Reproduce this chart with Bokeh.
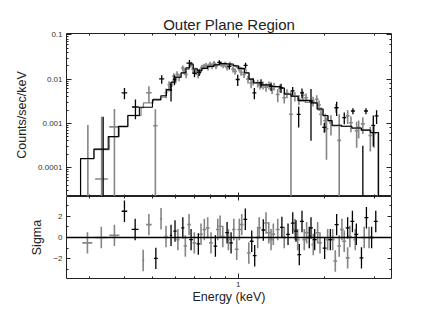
import numpy as np
from bokeh.plotting import figure
from bokeh.models import (ColumnDataSource, Range1d, LogAxis, LinearAxis, FixedTicker,
                          SingleIntervalTicker, CustomJSTickFormatter, Span)
from bokeh.layouts import column
from bokeh.embed import file_html
from bokeh.resources import INLINE

# ---------------- data ----------------
# gray data set (spectrum): energy (keV), half bin width, rate (counts/sec/keV), 1-sigma error
g_e = [0.297, 0.332, 0.368, 0.486, 0.512, 0.558, 0.572, 0.594, 0.603, 0.610,
       0.620, 0.639, 0.647, 0.656, 0.683, 0.694, 0.711, 0.723, 0.735, 0.746,
       0.758, 0.771, 0.783, 0.796, 0.809, 0.822, 0.835, 0.870, 0.884, 0.899,
       0.913, 0.935, 0.958, 0.974, 1.006, 1.022, 1.047, 1.081, 1.108, 1.126,
       1.169, 1.191, 1.220, 1.250, 1.281, 1.313, 1.334, 1.374, 1.399, 1.448,
       1.480, 1.529, 1.578, 1.630, 1.683, 1.726, 1.827, 1.882, 1.917, 1.948,
       2.015, 2.036, 2.111, 2.198, 2.256, 2.415, 2.480, 2.597, 2.640, 2.730,
       2.900, 2.990]
g_de = [0.012, 0.017, 0.015, 0.011, 0.009, 0.007, 0.007, 0.008, 0.008, 0.008,
        0.008, 0.009, 0.009, 0.009, 0.010, 0.010, 0.010, 0.010, 0.010, 0.011,
        0.011, 0.011, 0.011, 0.012, 0.012, 0.012, 0.012, 0.013, 0.013, 0.013,
        0.013, 0.014, 0.014, 0.014, 0.015, 0.015, 0.016, 0.016, 0.017, 0.017,
        0.018, 0.018, 0.019, 0.019, 0.020, 0.020, 0.020, 0.021, 0.021, 0.022,
        0.022, 0.024, 0.024, 0.025, 0.026, 0.026, 0.028, 0.029, 0.029, 0.030,
        0.031, 0.031, 0.032, 0.034, 0.034, 0.037, 0.038, 0.040, 0.040, 0.042,
        0.044, 0.046]
g_rate = [1.5e-5, 5.5e-5, 8.3e-4, 4.9e-3, 8.8e-4, 4.9e-3, 7.5e-3, 0.0116, 0.0100, 0.0129,
          0.0110, 0.0178, 0.0150, 0.0128, 0.0216, 0.0167, 0.0150, 0.0128, 0.0150, 0.0185,
          0.0195, 0.0205, 0.0185, 0.0216, 0.0195, 0.0227, 0.0195, 0.0221, 0.0205, 0.0216,
          0.0185, 0.0216, 0.0167, 0.0150, 0.0175, 0.0143, 0.0128, 0.0100, 0.0082, 0.0090,
          0.0081, 0.0073, 0.0073, 0.0066, 0.0073, 0.0059, 0.0069, 0.0045, 0.0063, 0.0038,
          0.0048, 0.0016, 0.0041, 0.0035, 0.0043, 0.0038, 0.0032, 0.0035, 0.0026, 0.0016,
          0.00114, 0.00075, 0.00103, 0.00223, 0.00041, 0.00147, 0.00103, 0.00068, 0.00080, 0.00097,
          0.00053, 0.00058]
g_err = [9.0e-4, 1.35e-3, 1.27e-3, 2.0e-3, 1.2e-3, 1.2e-3, 1.5e-3, 2.0e-3, 2.0e-3, 2.2e-3,
         2.0e-3, 2.5e-3, 2.5e-3, 2.3e-3, 3.0e-3, 3.0e-3, 2.5e-3, 2.5e-3, 2.5e-3, 2.8e-3,
         2.8e-3, 2.8e-3, 2.8e-3, 3.0e-3, 2.8e-3, 3.0e-3, 2.8e-3, 3.0e-3, 2.8e-3, 3.0e-3,
         2.8e-3, 3.0e-3, 2.6e-3, 2.5e-3, 2.6e-3, 2.4e-3, 2.2e-3, 2.0e-3, 2.0e-3, 1.8e-3,
         1.6e-3, 1.5e-3, 1.5e-3, 1.4e-3, 1.5e-3, 1.3e-3, 1.4e-3, 1.5e-3, 1.3e-3, 1.0e-3,
         1.1e-3, 3.8e-3, 1.0e-3, 9.0e-4, 1.0e-3, 9.0e-4, 8.0e-4, 8.0e-4, 7.0e-4, 7.0e-4,
         5.0e-4, 6.0e-4, 5.0e-4, 5.0e-4, 1.2e-3, 5.0e-4, 4.0e-4, 4.0e-4, 3.5e-4, 4.0e-4,
         3.0e-4, 3.0e-4]

# black data set
b_e = [0.336, 0.399, 0.436, 0.539, 0.581, 0.597, 0.674, 0.702, 0.729, 0.858,
       0.930, 0.995, 1.060, 1.138, 1.201, 1.302, 1.411, 1.550, 1.627, 1.671,
       1.797, 2.000, 2.210, 2.350, 2.520, 2.730, 2.800, 2.970, 3.050]
b_de = [0.006, 0.009, 0.012, 0.011, 0.005, 0.008, 0.016, 0.012, 0.012, 0.014,
        0.015, 0.016, 0.017, 0.018, 0.019, 0.020, 0.022, 0.024, 0.025, 0.026,
        0.028, 0.032, 0.035, 0.037, 0.040, 0.042, 0.044, 0.046, 0.048]
b_rate = [1.5e-5, 0.0049, 0.00234, 0.0101, 0.0056, 0.0098, 0.0231, 0.0136, 0.0143, 0.0239,
          0.0195, 0.0098, 0.0205, 0.0049, 0.0082, 0.0069, 0.00635, 0.0054, 0.0016, 0.0049,
          0.0032, 0.00081, 0.00226, 0.00135, 0.0019, 1.2e-5, 0.0019, 0.0009, 0.00147]
b_err = [1.4e-3, 1.4e-3, 1.1e-3, 2.2e-3, 2.5e-3, 2.5e-3, 4.0e-3, 2.5e-3, 2.5e-3, 3.0e-3,
         3.0e-3, 2.8e-3, 3.0e-3, 1.4e-3, 1.8e-3, 1.5e-3, 1.5e-3, 1.2e-3, 8.0e-4, 1.2e-3,
         2.8e-3, 2.0e-4, 8.0e-4, 4.0e-4, 3.0e-4, 3.0e-4, 3.0e-4, 6.0e-4, 5.0e-4]

# model histograms (bin edges and values)
gm_edges = [0.280, 0.312, 0.3535, 0.383, 0.410, 0.456, 0.465, 0.503, 0.536, 0.558,
            0.572, 0.586, 0.605, 0.630, 0.651, 0.672, 0.694, 0.717, 0.740, 0.771,
            0.802, 0.835, 0.870, 0.906, 0.943, 0.982, 1.022, 1.064, 1.090, 1.126,
            1.182, 1.250, 1.323, 1.411, 1.446, 1.529, 1.618, 1.712, 1.797, 1.886,
            1.980, 2.061, 2.128, 2.288, 2.480, 2.689, 2.914, 3.083]
gm_vals = [1.57e-4, 2.55e-4, 4.98e-4, 8.3e-4, 1.5e-3, 2.26e-3, 2.9e-3, 3.5e-3, 3.9e-3, 5.4e-3,
           6.9e-3, 9.0e-3, 0.0110, 0.0136, 0.0167, 0.0210, 0.0175, 0.0150, 0.0175, 0.0195,
           0.0205, 0.0216, 0.0227, 0.0221, 0.0205, 0.0185, 0.0167, 0.0136, 0.0100, 0.0081,
           0.0073, 0.0069, 0.0066, 0.0063, 0.0045, 0.0041, 0.0032, 0.0030, 0.0029, 0.0021,
           0.00147, 0.00114, 0.00088, 0.00085, 0.00077, 0.00070, 0.00061]
bm_edges = [0.280, 0.312, 0.350, 0.380, 0.410, 0.450, 0.500, 0.535, 0.560, 0.580,
            0.600, 0.630, 0.655, 0.675, 0.695, 0.720, 0.745, 0.780, 0.820, 0.860,
            0.910, 0.960, 1.000, 1.050, 1.090, 1.130, 1.200, 1.300, 1.410, 1.450,
            1.530, 1.620, 1.800, 1.890, 1.980, 2.060, 2.130, 2.300, 2.500, 2.700,
            2.900, 3.100]
bm_vals = [1.6e-4, 2.6e-4, 5.0e-4, 8.5e-4, 1.5e-3, 2.3e-3, 3.4e-3, 4.2e-3, 5.8e-3, 8.5e-3,
           0.0110, 0.0140, 0.0180, 0.0220, 0.0170, 0.0155, 0.0175, 0.0195, 0.0210, 0.0225,
           0.0220, 0.0200, 0.0175, 0.0140, 0.0100, 0.0083, 0.0074, 0.0068, 0.0063, 0.0046,
           0.0041, 0.0033, 0.0029, 0.0021, 0.0015, 0.00115, 0.00090, 0.00086, 0.00078, 0.00070,
           0.00062]

# residuals (sigma)
rg_e = [0.296, 0.331, 0.368, 0.464, 0.486, 0.536, 0.558, 0.614, 0.652, 0.672,
        0.701, 0.740, 0.760, 0.781, 0.802, 0.847, 0.863, 0.882, 0.923, 0.964,
        0.987, 1.008, 1.028, 1.088, 1.169, 1.183, 1.250, 1.278, 1.302, 1.326,
        1.374, 1.448, 1.579, 1.614, 1.702, 1.735, 1.830, 1.896, 1.932, 2.055,
        2.140, 2.186, 2.256, 2.306, 2.349, 2.415, 2.459, 2.568, 2.760, 2.870]
rg_de = [0.012, 0.017, 0.015, 0.004, 0.011, 0.005, 0.007, 0.008, 0.009, 0.010,
         0.010, 0.011, 0.011, 0.011, 0.012, 0.012, 0.013, 0.013, 0.013, 0.014,
         0.015, 0.015, 0.015, 0.016, 0.018, 0.018, 0.019, 0.020, 0.020, 0.020,
         0.021, 0.022, 0.024, 0.025, 0.026, 0.026, 0.028, 0.029, 0.029, 0.031,
         0.032, 0.034, 0.034, 0.035, 0.036, 0.037, 0.038, 0.040, 0.042, 0.044]
rg_s = [-0.5, 0.0, 0.2, -2.15, 1.2, 1.75, 0.1, -0.2, -0.8, 1.2,
        -0.5, 0.3, 0.75, 0.9, -0.5, 0.75, 1.05, 0.1, -0.2, 0.75,
        -1.1, 0.75, 1.2, -1.45, 0.0, 0.9, 1.35, 0.45, -0.2, 0.3,
        0.75, 0.0, 0.75, -0.2, -0.2, 0.45, -0.65, 0.45, -0.5, -0.2,
        -0.2, -2.2, -0.8, 0.75, -0.35, -1.9, 0.1, -0.2, 0.0, 0.0]
rb_e = [0.399, 0.435, 0.514, 0.581, 0.600, 0.639, 0.683, 0.724, 0.831, 0.913,
        0.943, 1.058, 1.114, 1.141, 1.223, 1.421, 1.493, 1.551, 1.592, 1.635,
        1.671, 1.772, 1.797, 1.851, 2.006, 2.100, 2.210, 2.415, 2.510, 2.590,
        2.700, 2.810, 2.930, 3.030]
rb_de = [0.009, 0.012, 0.008, 0.005, 0.008, 0.008, 0.010, 0.010, 0.012, 0.013,
         0.014, 0.016, 0.017, 0.017, 0.018, 0.021, 0.022, 0.023, 0.024, 0.025,
         0.026, 0.027, 0.028, 0.029, 0.032, 0.033, 0.035, 0.038, 0.040, 0.040,
         0.042, 0.044, 0.045, 0.047]
rb_s = [2.45, 0.75, -1.95, 0.2, 0.6, 0.9, -0.2, -0.6, -0.8, 0.45,
        -0.5, 1.7, -0.35, -1.7, 0.7, 0.95, 0.3, 1.35, 0.6, -1.6,
        1.5, 0.0, 0.9, -0.2, -1.0, -0.2, 1.2, 0.9, 1.5, 0.3,
        -1.9, 1.85, 0.0, 1.5]

# energy axis ticks: labelled major tick and unlabelled minor ticks
x_major = [1.0]
x_minor = [0.3, 0.4, 0.5, 0.6, 0.7, 0.8, 0.9, 2.0, 3.0]

# ---------------- styling ----------------
FONT = "Liberation Sans"
GRAY = "#858585"
BLACK = "#000000"
FLOOR = 1e-9
TICK_FMT = CustomJSTickFormatter(code="return String(parseFloat(tick.toPrecision(2)));")


def x_ticker():
    return FixedTicker(ticks=x_major, minor_ticks=x_minor)


def data_source(e, de, v, err, log=True):
    e = np.array(e); de = np.array(de); v = np.array(v); err = np.array(err)
    lo = v - err
    if log:
        lo = np.maximum(lo, FLOOR)
    return ColumnDataSource(dict(e=e, el=e - de, eh=e + de, v=v, lo=lo, hi=v + err))


def hist_source(edges, vals):
    mx = [edges[0]]
    my = [FLOOR]
    for i, v in enumerate(vals):
        mx += [edges[i], edges[i + 1]]
        my += [v, v]
    mx.append(edges[-1])
    my.append(FLOOR)
    return ColumnDataSource(dict(x=mx, y=my))


def style_axis(ax, labels=True, major=4, minor=2):
    ax.axis_line_color = None
    ax.major_tick_in = major
    ax.major_tick_out = 0
    ax.minor_tick_in = minor
    ax.minor_tick_out = 0
    ax.major_tick_line_color = "#222222"
    ax.minor_tick_line_color = "#222222"
    if labels:
        ax.major_label_text_font = FONT
        ax.major_label_text_font_size = "8px"
        ax.major_label_text_color = "#333333"
        ax.major_label_standoff = 4
        ax.axis_label_text_font = FONT
        ax.axis_label_text_font_size = "12.5px"
        ax.axis_label_text_font_style = "normal"
        ax.axis_label_text_color = "#222222"
    else:
        ax.major_label_text_font_size = "0px"
        ax.major_label_standoff = 0
        ax.formatter = CustomJSTickFormatter(code="return '';")


def base_style(p):
    p.grid.visible = False
    p.outline_line_color = "#222222"
    p.outline_line_width = 1
    p.background_fill_color = "white"
    p.border_fill_color = "white"


x_range = Range1d(0.25, 3.44)

# ---------------- top panel ----------------
p1 = figure(width=430, height=196, x_axis_type="log", y_axis_type="log",
            x_range=x_range, y_range=Range1d(2.2e-5, 0.108),
            output_backend="svg", toolbar_location=None,
            min_border_left=66, min_border_right=39, min_border_top=33, min_border_bottom=0,
            title="Outer Plane Region")
base_style(p1)
p1.title.text_font = FONT
p1.title.text_font_size = "15px"
p1.title.text_font_style = "normal"
p1.title.align = "center"
p1.title.text_color = "#222222"
p1.title.standoff = 1

p1.xaxis[0].ticker = x_ticker()
style_axis(p1.xaxis[0], labels=False)
style_axis(p1.yaxis[0], labels=True, major=5, minor=2)
p1.yaxis[0].formatter = TICK_FMT
p1.yaxis[0].axis_label = "Counts/sec/keV"
p1.yaxis[0].axis_label_standoff = 6
top_ax = LogAxis(ticker=x_ticker())
style_axis(top_ax, labels=False)
p1.add_layout(top_ax, "above")
right_ax = LogAxis()
style_axis(right_ax, labels=False, major=5, minor=2)
p1.add_layout(right_ax, "right")

gsrc = data_source(g_e, g_de, g_rate, g_err)
bsrc = data_source(b_e, b_de, b_rate, b_err)
p1.segment(x0="e", y0="lo", x1="e", y1="hi", source=gsrc, line_color=GRAY, line_width=1.6)
p1.segment(x0="el", y0="v", x1="eh", y1="v", source=gsrc, line_color=GRAY, line_width=1.6)
p1.line(x="x", y="y", source=hist_source(gm_edges, gm_vals), line_color=GRAY, line_width=1.3)
p1.line(x="x", y="y", source=hist_source(bm_edges, bm_vals), line_color=BLACK, line_width=1.1)
p1.segment(x0="e", y0="lo", x1="e", y1="hi", source=bsrc, line_color=BLACK, line_width=1.3)
p1.segment(x0="el", y0="v", x1="eh", y1="v", source=bsrc, line_color=BLACK, line_width=1.3)

# ---------------- residual panel ----------------
p2 = figure(width=430, height=116, x_axis_type="log",
            x_range=x_range, y_range=Range1d(-3.83, 3.83),
            output_backend="svg", toolbar_location=None,
            min_border_left=66, min_border_right=39, min_border_top=0, min_border_bottom=34)
base_style(p2)
p2.xaxis[0].ticker = x_ticker()
style_axis(p2.xaxis[0], labels=True, major=5, minor=2)
p2.xaxis[0].formatter = TICK_FMT
p2.xaxis[0].major_label_standoff = 3
p2.xaxis[0].axis_label = "Energy (keV)"
p2.xaxis[0].axis_label_standoff = 0
p2.yaxis[0].ticker = SingleIntervalTicker(interval=2, num_minor_ticks=2)
style_axis(p2.yaxis[0], labels=True, major=4, minor=2)
p2.yaxis[0].axis_label = "Sigma"
p2.yaxis[0].axis_label_standoff = 6
top2 = LogAxis(ticker=x_ticker())
style_axis(top2, labels=False)
p2.add_layout(top2, "above")
right2 = LinearAxis(ticker=SingleIntervalTicker(interval=2, num_minor_ticks=2))
style_axis(right2, labels=False, major=4, minor=2)
p2.add_layout(right2, "right")

ones_g = [1.0] * len(rg_e)
ones_b = [1.0] * len(rb_e)
rgsrc = data_source(rg_e, rg_de, rg_s, ones_g, log=False)
rbsrc = data_source(rb_e, rb_de, rb_s, ones_b, log=False)
p2.segment(x0="e", y0="lo", x1="e", y1="hi", source=rgsrc, line_color=GRAY, line_width=1.6)
p2.segment(x0="el", y0="v", x1="eh", y1="v", source=rgsrc, line_color=GRAY, line_width=1.6)
p2.segment(x0="e", y0="lo", x1="e", y1="hi", source=rbsrc, line_color=BLACK, line_width=1.3)
p2.segment(x0="el", y0="v", x1="eh", y1="v", source=rbsrc, line_color=BLACK, line_width=1.3)
p2.add_layout(Span(location=0, dimension="width", line_color=BLACK, line_width=1.3))

layout = column(p1, p2)
open("out.html", "w").write(file_html(layout, INLINE))
